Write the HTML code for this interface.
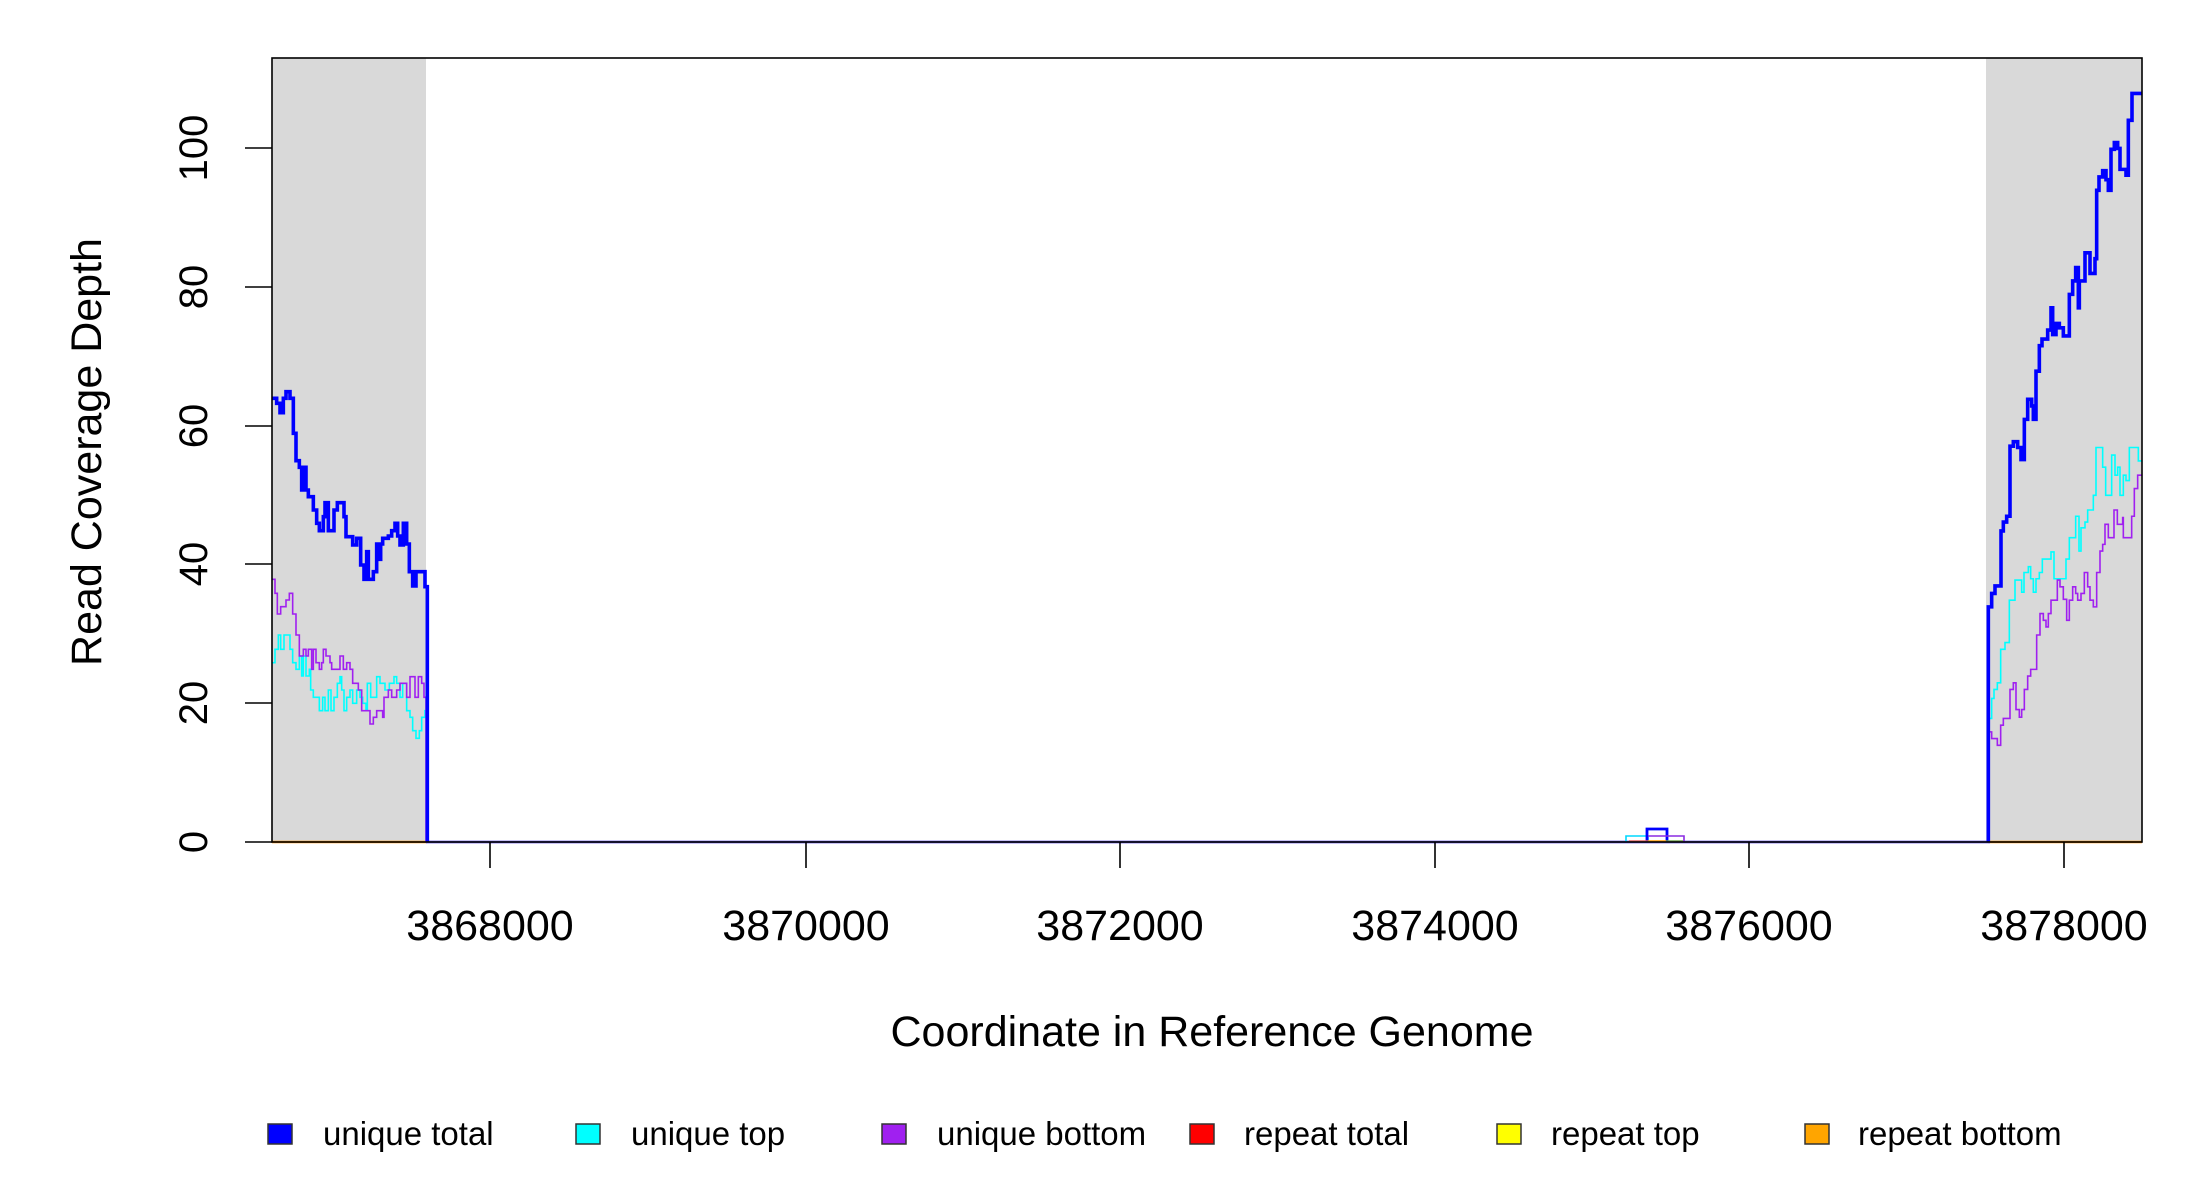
<!DOCTYPE html>
<html><head><meta charset="utf-8"><style>
html,body{margin:0;padding:0;background:#fff;}
svg{display:block;}
text{font-family:"Liberation Sans",sans-serif;fill:#000;}
</style></head><body>
<svg width="2200" height="1200" viewBox="0 0 2200 1200" xmlns="http://www.w3.org/2000/svg">
<rect x="272" y="58" width="154" height="784" fill="#d9d9d9"/>
<rect x="1986" y="58" width="156" height="784" fill="#d9d9d9"/>
<line x1="272" y1="842" x2="427" y2="842" stroke="#ff8c00" stroke-width="2.5"/>
<line x1="1988" y1="842" x2="2142" y2="842" stroke="#ff8c00" stroke-width="2.5"/>
<line x1="426" y1="842" x2="1990" y2="842" stroke="#6a5ae0" stroke-width="2.8"/>
<path d="M1626,842 V836 H1648 V842" fill="none" stroke="#00d8ff" stroke-width="1.6"/>
<path d="M1647,842 V829 H1667 V842" fill="none" stroke="#0000ff" stroke-width="2.8"/>
<path d="M1648,836 H1684 V842" fill="none" stroke="#8a2be2" stroke-width="1.6"/>
<line x1="1629" y1="841" x2="1648" y2="841" stroke="#e06060" stroke-width="1.5"/>
<line x1="1648" y1="841" x2="1666" y2="841" stroke="#ff9900" stroke-width="1.5"/>
<line x1="1666" y1="841" x2="1683" y2="841" stroke="#70a050" stroke-width="1.5"/>
<g transform="translate(260,360) scale(0.33333)">
<path vector-effect="non-scaling-stroke" fill="none" stroke="#00ffff" stroke-width="1.6" d="M35,908 H45 V868 H55 V825 H62 V868 H72 V825 H90 V868 H98 V908 H108 V928 H118 V888 H125 V948 H130 V888 H138 V948 H148 V928 H152 V990 H160 V1012 H178 V1052 H188 V1012 H195 V1052 H205 V990 H213 V1052 H222 V1012 H232 V970 H240 V950 H245 V990 H252 V1052 H260 V1012 H270 V990 H278 V1030 H290 V990 H300 V1012 H308 V1030 H318 V1052 H322 V970 H332 V1012 H350 V950 H360 V970 H375 V990 H388 V970 H402 V950 H410 V970 H420 V1012 H428 V970 H440 V1052 H450 V1072 H458 V1112 H468 V1135 H478 V1112 H485 V1072 H495 V1052 H500 V1030 V1446"/>
<path vector-effect="non-scaling-stroke" fill="none" stroke="#a020f0" stroke-width="1.6" d="M35,658 H45 V700 H52 V762 H62 V740 H78 V720 H88 V700 H98 V762 H108 V825 H118 V888 H130 V868 H138 V888 H145 V868 H155 V928 H160 V868 H168 V908 H178 V928 H185 V908 H190 V868 H198 V888 H210 V908 H215 V928 H240 V888 H250 V928 H260 V908 H270 V928 H278 V970 H295 V990 H305 V1052 H330 V1092 H340 V1072 H350 V1052 H368 V1072 H372 V1012 H385 V990 H395 V1012 H410 V990 H420 V970 H440 V1012 H450 V950 H465 V1012 H475 V950 H485 V970 H492 V1012 H498 V1092 V1446"/>
<path vector-effect="non-scaling-stroke" fill="none" stroke="#0000ff" stroke-width="3.6" d="M35,115 H50 V130 H60 V158 H70 V115 H78 V95 H90 V115 H100 V220 H108 V302 H118 V322 H125 V390 H132 V322 H138 V390 H145 V410 H160 V450 H170 V490 H178 V512 H190 V470 H195 V428 H205 V512 H222 V450 H232 V428 H252 V470 H258 V530 H278 V555 H290 V535 H302 V615 H312 V658 H320 V575 H325 V658 H340 V635 H350 V552 H358 V598 H362 V552 H368 V535 H385 V528 H395 V512 H405 V490 H413 V528 H420 V555 H430 V490 H440 V552 H448 V635 H458 V678 H468 V635 H495 V680 H502 V1446"/>
</g>
<g transform="translate(1980,60) scale(0.33333,0.44643)">
<path vector-effect="non-scaling-stroke" fill="none" stroke="#00ffff" stroke-width="1.6" d="M25,1752 V1475 H35 V1430 H42 V1410 H52 V1395 H62 V1320 H75 V1305 H88 V1210 H105 V1165 H125 V1192 H132 V1148 H145 V1135 H152 V1162 H160 V1192 H168 V1162 H178 V1148 H187 V1118 H213 V1102 H222 V1162 H258 V1118 H268 V1070 H287 V1022 H297 V1100 H303 V1048 H315 V1035 H323 V1008 H340 V975 H348 V868 H368 V912 H377 V975 H395 V885 H405 V930 H413 V912 H420 V975 H430 V930 H438 V942 H448 V868 H475 V898 H485"/>
<path vector-effect="non-scaling-stroke" fill="none" stroke="#a020f0" stroke-width="1.6" d="M25,1752 V1505 H35 V1520 H52 V1535 H62 V1490 H70 V1475 H90 V1410 H100 V1395 H108 V1455 H118 V1472 H125 V1455 H133 V1410 H143 V1380 H152 V1365 H170 V1288 H180 V1240 H190 V1255 H198 V1270 H205 V1240 H213 V1210 H232 V1165 H240 V1180 H250 V1208 H260 V1255 H268 V1210 H278 V1180 H287 V1195 H293 V1210 H303 V1195 H313 V1148 H323 V1180 H330 V1210 H340 V1225 H350 V1148 H360 V1100 H368 V1085 H375 V1040 H385 V1070 H402 V1008 H412 V1040 H428 V1025 H430 V1070 H445 V1070 H455 V1022 H463 V960 H473 V930 H485"/>
<path vector-effect="non-scaling-stroke" fill="none" stroke="#0000ff" stroke-width="3.6" d="M25,1752 V1225 H35 V1195 H45 V1178 H63 V1055 H70 V1035 H80 V1022 H90 V865 H100 V855 H113 V868 H123 V895 H133 V805 H143 V760 H155 V775 H160 V805 H168 V697 H178 V640 H186 V625 H203 V605 H213 V555 H218 V615 H228 V590 H238 V600 H250 V618 H268 V525 H278 V495 H287 V465 H295 V555 H298 V495 H303 V495 H315 V432 H330 V478 H345 V445 H350 V292 H357 V262 H368 V248 H378 V268 H385 V292 H393 V200 H403 V185 H413 V198 H420 V245 H438 V258 H445 V135 H456 V75 H485"/>
</g>
<rect x="272" y="58" width="1870" height="784" fill="none" stroke="#000" stroke-width="1.6"/>
<g stroke="#000" stroke-width="1.6">
<line x1="245" y1="842" x2="272" y2="842"/>
<line x1="245" y1="703" x2="272" y2="703"/>
<line x1="245" y1="564" x2="272" y2="564"/>
<line x1="245" y1="426" x2="272" y2="426"/>
<line x1="245" y1="287" x2="272" y2="287"/>
<line x1="245" y1="148" x2="272" y2="148"/>
<line x1="490" y1="842" x2="490" y2="868"/>
<line x1="806" y1="842" x2="806" y2="868"/>
<line x1="1120" y1="842" x2="1120" y2="868"/>
<line x1="1435" y1="842" x2="1435" y2="868"/>
<line x1="1749" y1="842" x2="1749" y2="868"/>
<line x1="2064" y1="842" x2="2064" y2="868"/>
</g>
<g font-size="40" text-anchor="middle">
<text transform="translate(207,842) rotate(-90)">0</text>
<text transform="translate(207,703) rotate(-90)">20</text>
<text transform="translate(207,564) rotate(-90)">40</text>
<text transform="translate(207,426) rotate(-90)">60</text>
<text transform="translate(207,287) rotate(-90)">80</text>
<text transform="translate(207,148) rotate(-90)">100</text>
</g>
<g font-size="43" text-anchor="middle">
<text x="490" y="940">3868000</text>
<text x="806" y="940">3870000</text>
<text x="1120" y="940">3872000</text>
<text x="1435" y="940">3874000</text>
<text x="1749" y="940">3876000</text>
<text x="2064" y="940">3878000</text>
<text x="1212" y="1046">Coordinate in Reference Genome</text>
<text transform="translate(101,452) rotate(-90)">Read Coverage Depth</text>
</g>
<g stroke="#333" stroke-width="1.5">
<rect x="268" y="1124" width="24" height="20" fill="#0000ff"/>
<rect x="576" y="1124" width="24" height="20" fill="#00ffff"/>
<rect x="882" y="1124" width="24" height="20" fill="#a020f0"/>
<rect x="1190" y="1124" width="24" height="20" fill="#ff0000"/>
<rect x="1497" y="1124" width="24" height="20" fill="#ffff00"/>
<rect x="1805" y="1124" width="24" height="20" fill="#ffa500"/>
</g>
<g font-size="33">
<text x="323" y="1145">unique total</text>
<text x="631" y="1145">unique top</text>
<text x="937" y="1145">unique bottom</text>
<text x="1244" y="1145">repeat total</text>
<text x="1551" y="1145">repeat top</text>
<text x="1858" y="1145">repeat bottom</text>
</g>
</svg>
</body></html>
